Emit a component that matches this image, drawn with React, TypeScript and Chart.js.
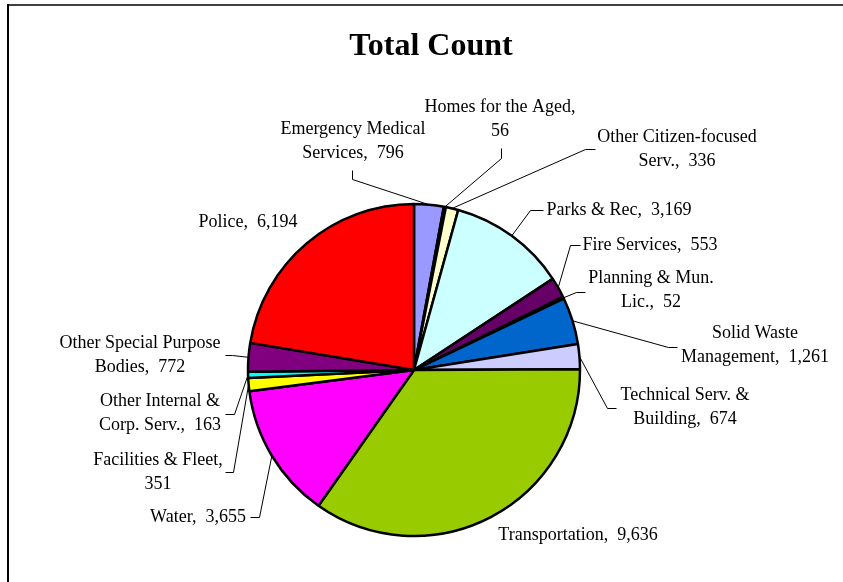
import React, { useEffect, useRef } from "react";
import { Chart, registerables } from "chart.js";

Chart.register(...registerables);

const title = "Total Count";
const categories = [
  "Emergency Medical Services",
  "Homes for the Aged",
  "Other Citizen-focused Serv.",
  "Parks & Rec",
  "Fire Services",
  "Planning & Mun. Lic.",
  "Solid Waste Management",
  "Technical Serv. & Building",
  "Transportation",
  "Water",
  "Facilities & Fleet",
  "Other Internal & Corp. Serv.",
  "Other Special Purpose Bodies",
  "Police",
];
const values = [796, 56, 336, 3169, 553, 52, 1261, 674, 9636, 3655, 351, 163, 772, 6194];
const colors = [
  "#9999FF", "#993366", "#FFFFCC", "#CCFFFF", "#660066", "#FF8080", "#0066CC",
  "#CCCCFF", "#99CC00", "#FF00FF", "#FFFF00", "#00FFFF", "#800080", "#FF0000",
];

// layout of the data labels (number of words on the first line, centre of first line)
const firstLineWords = [2, 4, 2, 99, 99, 3, 2, 3, 99, 99, 3, 3, 3, 99];
const labelPos: [number, number][] = [
  [353, 129], [500, 107], [677, 137], [619, 210], [650, 245], [651, 278], [755, 333],
  [685, 395], [578, 535], [198, 517], [158, 460], [160, 401], [140, 343], [248, 222],
];
const leaderPts: ([number, number][] | null)[] = [
  [[352, 170], [352, 179]],
  [[501, 148], [501, 158]],
  [[595, 149], [585, 149]],
  [[543, 210], [530, 210]],
  [[580, 245], [570, 245]],
  [[585, 292], [576, 292]],
  [[677, 347], [668, 347]],
  [[616, 408], [607, 408]],
  null,
  [[250, 517], [259, 517]],
  [[225, 472], [233, 472]],
  [[225, 414], [234, 414]],
  [[225, 355], [232, 355]],
  null,
];

const fmt = (v: number) => v.toLocaleString("en-US");

function labelLines(i: number): string[] {
  const words = (categories[i] + ",").split(" ").concat([fmt(values[i])]);
  const n = firstLineWords[i];
  const groups = n >= words.length ? [words] : [words.slice(0, n), words.slice(n)];
  return groups.map((g) => g.join(" ").replace(/, (\d[\d,]*)$/, ",  $1"));
}

const labelPlugin = {
  id: "excelLabels",
  afterDraw(chart: any) {
    const ctx = chart.ctx;
    ctx.save();
    // frame
    ctx.fillStyle = "#404040";
    ctx.fillRect(7, 4, 843, 2);
    ctx.fillStyle = "#000";
    ctx.fillRect(7, 4, 2, 590);
    // title
    ctx.fillStyle = "#000";
    ctx.textAlign = "center";
    ctx.textBaseline = "alphabetic";
    ctx.font = "bold 32px 'Liberation Serif', 'Times New Roman', serif";
    ctx.fillText(title, 431, 55);
    // leaders
    const meta = chart.getDatasetMeta(0);
    ctx.strokeStyle = "#000";
    ctx.lineWidth = 1;
    meta.data.forEach((arc: any, i: number) => {
      const pts = leaderPts[i];
      if (!pts) return;
      const p = arc.getProps(["x", "y", "startAngle", "endAngle", "outerRadius"], true);
      const mid = (p.startAngle + p.endAngle) / 2;
      const ex = p.x + Math.cos(mid) * p.outerRadius;
      const ey = p.y + Math.sin(mid) * p.outerRadius;
      ctx.beginPath();
      ctx.moveTo(pts[0][0] + 0.5, pts[0][1] + 0.5);
      ctx.lineTo(pts[1][0] + 0.5, pts[1][1] + 0.5);
      ctx.lineTo(ex, ey);
      ctx.stroke();
    });
    // labels
    ctx.font = "18px 'Liberation Serif', 'Times New Roman', serif";
    ctx.textBaseline = "middle";
    ctx.textAlign = "center";
    categories.forEach((_, i) => {
      const lines = labelLines(i);
      lines.forEach((ln, k) => {
        ctx.fillText(ln, labelPos[i][0], labelPos[i][1] + k * 24);
      });
    });
    ctx.restore();
  },
};

export default function App() {
  const ref = useRef<HTMLCanvasElement | null>(null);
  useEffect(() => {
    if (!ref.current) return;
    const chart = new Chart(ref.current, {
      type: "pie",
      data: {
        labels: categories,
        datasets: [
          {
            data: values,
            backgroundColor: colors,
            borderColor: "#000",
            borderWidth: 2.5,
            hoverOffset: 0,
            radius: 166,
          } as any,
        ],
      },
      options: {
        responsive: false,
        maintainAspectRatio: false,
        devicePixelRatio: 1,
        animation: false,
        rotation: 0,
        radius: 166,
        layout: { padding: { left: 0, right: 15, top: 158, bottom: 0 } },
        plugins: {
          legend: { display: false },
          tooltip: { enabled: false },
          title: { display: false },
        },
        events: [],
      } as any,
      plugins: [labelPlugin],
    });
    return () => chart.destroy();
  }, []);
  return (
    <div style={{ position: "fixed", left: 0, top: 0, width: 843, height: 582, background: "#fff" }}>
      <canvas ref={ref} width={843} height={582} style={{ display: "block" }} />
    </div>
  );
}
